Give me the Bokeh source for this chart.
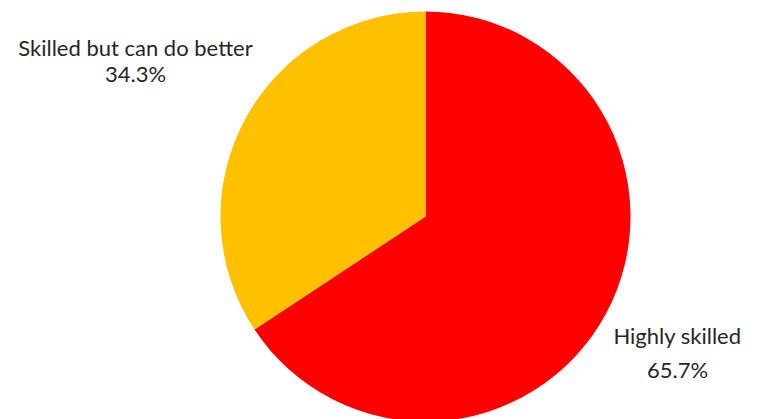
import math
from bokeh.plotting import figure
from bokeh.models import ColumnDataSource, Range1d
from bokeh.core.properties import value
from bokeh.embed import file_html
from bokeh.resources import INLINE

categories = ["Highly skilled", "Skilled but can do better"]
shares = [65.7, 34.3]
colors = ["#FF0000", "#FFC000"]

W, H = 757, 419
cx, cy, r = 425, 203, 205

total = sum(shares)
starts, ends = [], []
acc = 0.0
for s in shares:
    a0 = math.pi / 2 - 2 * math.pi * acc / total
    acc += s
    a1 = math.pi / 2 - 2 * math.pi * acc / total
    starts.append(a0)
    ends.append(a1)

src = ColumnDataSource(dict(cat=categories, val=shares, start=starts, end=ends, color=colors))

p = figure(width=W, height=H, output_backend="svg", toolbar_location=None,
           x_range=Range1d(0, W), y_range=Range1d(0, H), min_border=0)
p.axis.visible = False
p.grid.visible = False
p.outline_line_color = None
p.background_fill_color = "white"

p.wedge(x=cx, y=cy, radius=r, start_angle="start", end_angle="end", direction="clock",
        fill_color="color", line_color=None, source=src)

label_pos = {"Highly skilled": (677, 84, 50), "Skilled but can do better": (135, 372, 346)}
lx, ly1, ly2, t1, t2 = [], [], [], [], []
for c, v in zip(categories, shares):
    x, y1, y2 = label_pos[c]
    lx.append(x); ly1.append(y1); ly2.append(y2)
    t1.append(c); t2.append(f"{v:.1f}%")

p.text(x=lx, y=ly1, text=t1, text_align="center", text_baseline="middle",
       text_font=value("Lato"), text_font_size="22px", text_color="#262626")
p.text(x=lx, y=ly2, text=t2, text_align="center", text_baseline="middle",
       text_font=value("Lato"), text_font_size="22px", text_color="#262626")

open("out.html", "w").write(file_html(p, INLINE))
